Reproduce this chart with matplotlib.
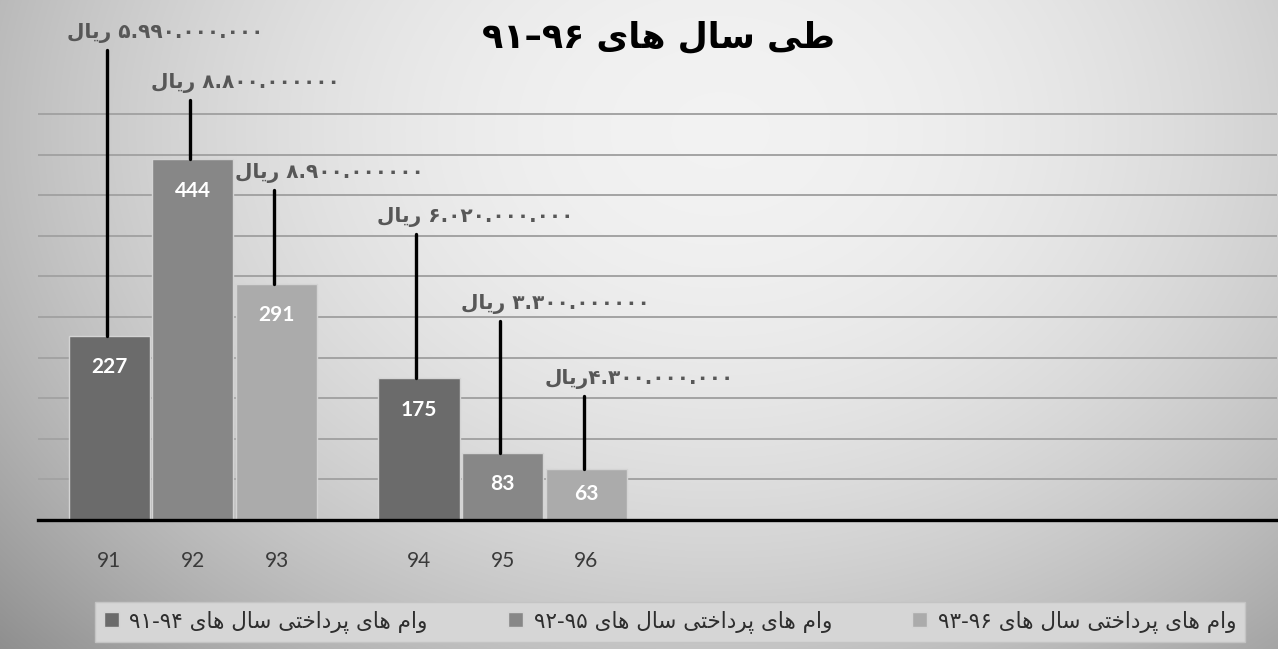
import numpy as np
import matplotlib
matplotlib.use("Agg")
import matplotlib.pyplot as plt
from matplotlib.patches import Patch

# ---------------- data ----------------
years = ['91', '92', '93', '94', '95', '96']
loan_counts = [227, 444, 291, 175, 83, 63]
series_of_bar = [0, 1, 2, 0, 1, 2]
amounts = ['۵.۹۹۰.۰۰۰.۰۰۰', '۸.۸۰۰.۰۰۰۰۰۰', '۸.۹۰۰.۰۰۰۰۰۰',
           '۶.۰۲۰.۰۰۰.۰۰۰', '۳.۳۰۰.۰۰۰۰۰۰', '۴.۳۰۰.۰۰۰.۰۰۰']
amount_gap = [' ', ' ', ' ', ' ', ' ', '']
currency = 'ریال'
series_text = 'وام های پرداختی سال های'
series_ranges = ['۹۱-۹۴', '۹۲-۹۵', '۹۳-۹۶']
title_words = 'طی سال های'
title_range = '۹۱–۹۶'

# ---------------- layout ----------------
line_tops = [579, 517, 406, 352, 245, 153]   # where callout lines end (axis units)
colors = ['#6b6b6b', '#878787', '#ababab']

# ---------------- minimal Persian shaping ----------------
FORMS = {
    'ا': ('\uFE8D', '\uFE8E', None, None),
    'ل': ('\uFEDD', '\uFEDE', '\uFEDF', '\uFEE0'),
    'ط': ('\uFEC1', '\uFEC2', '\uFEC3', '\uFEC4'),
    'ی': ('\uFBFC', '\uFBFD', '\uFBFE', '\uFBFF'),
    'س': ('\uFEB1', '\uFEB2', '\uFEB3', '\uFEB4'),
    'ه': ('\uFEE9', '\uFEEA', '\uFEEB', '\uFEEC'),
    'و': ('\uFEED', '\uFEEE', None, None),
    'م': ('\uFEE1', '\uFEE2', '\uFEE3', '\uFEE4'),
    'پ': ('\uFB56', '\uFB57', '\uFB58', '\uFB59'),
    'ر': ('\uFEAD', '\uFEAE', None, None),
    'د': ('\uFEA9', '\uFEAA', None, None),
    'خ': ('\uFEA5', '\uFEA6', '\uFEA7', '\uFEA8'),
    'ت': ('\uFE95', '\uFE96', '\uFE97', '\uFE98'),
}


def rtl(s):
    out = []
    for i, c in enumerate(s):
        if c not in FORMS:
            out.append(c)
            continue
        iso, fin, ini, med = FORMS[c]
        prev = s[i - 1] if i > 0 else ''
        nxt = s[i + 1] if i + 1 < len(s) else ''
        jp = prev in FORMS and FORMS[prev][2] is not None
        jn = nxt in FORMS and ini is not None
        if jp and jn:
            out.append(med)
        elif jp:
            out.append(fin)
        elif jn:
            out.append(ini)
        else:
            out.append(iso)
    return ''.join(out)[::-1]


plt.rcParams['font.family'] = ['DejaVu Sans']

W, H = 1278, 649
fig = plt.figure(figsize=(W / 100, H / 100), dpi=100)

# background gradient
bg = fig.add_axes([0, 0, 1, 1], zorder=-10)
yy, xx = np.mgrid[0:H, 0:W]
d2 = ((xx - 720) / 720.0) ** 2 + ((yy - 130) / 560.0) ** 2
g = np.clip(0.95 - 0.21 * d2, 0, 1)
bg.imshow(np.dstack([g, g, g]), extent=[0, W, H, 0], aspect='auto', interpolation='bilinear')
bg.set_xlim(0, W)
bg.set_ylim(H, 0)
bg.axis('off')

# main axes
ymax = 540
scale = 0.812
ax_h = ymax * scale
ax = fig.add_axes([38 / W, (H - 520) / H, (1277 - 38) / W, ax_h / H])
ax.patch.set_alpha(0)

group_w = 3.7
xpos = []
for i in range(len(years)):
    grp = i // 3
    xpos.append(group_w / 2 + group_w * grp + (series_of_bar[i] - 1))

bar_colors = [colors[s] for s in series_of_bar]
bars = ax.bar(xpos, loan_counts, width=0.97, color=bar_colors,
              edgecolor='#d4d4d4', linewidth=1.0, zorder=3)

ax.set_xlim(0, group_w * 4)
ax.set_ylim(0, ymax)
ax.set_yticks(np.arange(50, 501, 50))
ax.yaxis.grid(True, color='#a3a3a3', linewidth=1.4, zorder=0)
ax.set_axisbelow(True)
ax.tick_params(axis='y', length=0, labelleft=False)
ax.set_xticks(xpos)
ax.set_xticklabels(years, fontsize=15, color='#3a3a3a', family='Lato')
ax.tick_params(axis='x', length=0, pad=22)
for sp in ['left', 'right', 'top']:
    ax.spines[sp].set_visible(False)
ax.spines['bottom'].set_color('black')
ax.spines['bottom'].set_linewidth(2.4)
ax.spines['bottom'].set_zorder(5)

# value labels inside bars
for x, v in zip(xpos, loan_counts):
    y = max(v - 39, v / 2)
    ax.text(x, y, str(v), ha='center', va='center', color='white',
            fontsize=15, fontweight='bold', family='Lato', zorder=6)

# callout lines and amount labels
for x, v, top, amt, gap in zip(xpos, loan_counts, line_tops, amounts, amount_gap):
    ax.plot([x - 0.03, x - 0.03], [v, top], color='black', linewidth=2.4,
            solid_capstyle='round', clip_on=False, zorder=7)
    ax.text(x - 0.5, top + 21, rtl(currency) + gap + amt, ha='left', va='center',
            color='#575757', fontsize=14.5, fontweight='bold', clip_on=False, zorder=7)

# title
fig.text(659 / W, 1 - 38 / H, title_range + ' ' + rtl(title_words), ha='center', va='center',
         fontsize=25, fontweight='bold', color='black')

# legend
handles = [Patch(facecolor=c, edgecolor='#d4d4d4') for c in colors]
labels = [r + ' ' + rtl(series_text) for r in series_ranges]
leg = fig.legend(handles, labels, loc='lower left', ncol=3, mode='expand',
                 bbox_to_anchor=(95 / W, 7 / H, 1150 / W, 44 / H),
                 frameon=True, fontsize=15.5, handlelength=0.7, handleheight=0.7,
                 handletextpad=0.5, borderaxespad=0, borderpad=0.4)
leg.get_frame().set_facecolor('#d6d6d6')
leg.get_frame().set_edgecolor('#c4c4c4')
leg.get_frame().set_alpha(1)
leg.get_frame().set_boxstyle('square', pad=0)
for t in leg.get_texts():
    t.set_color('#2e2e2e')

fig.savefig('out.png', dpi=100)
